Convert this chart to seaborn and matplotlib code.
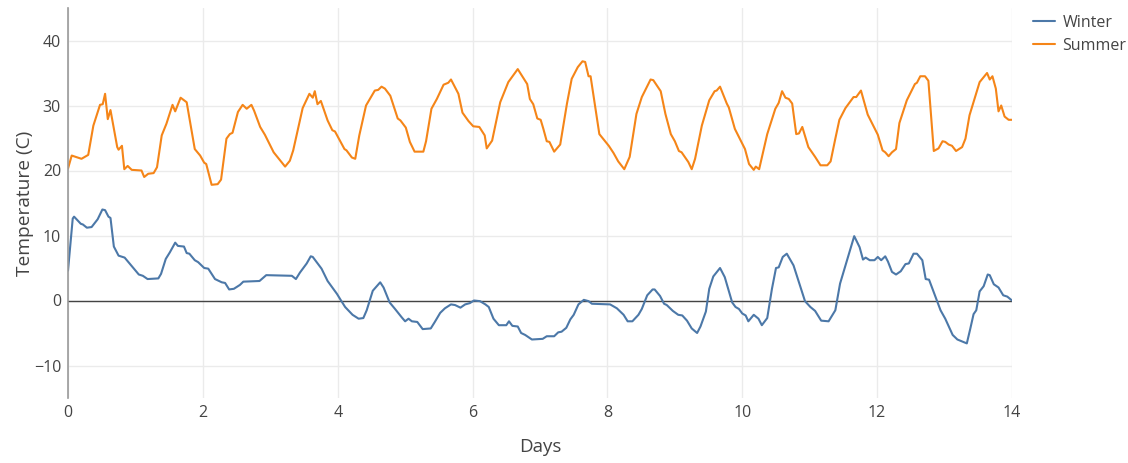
import numpy as np
import pandas as pd
import seaborn as sns
import matplotlib.pyplot as plt

# Temperature readings over two weeks
winter_days = [
    0.00, 0.07, 0.09, 0.19, 0.22, 0.28, 0.35, 0.44, 0.51, 0.55, 0.60, 0.63, 0.68, 0.75, 0.84,
    1.05, 1.11, 1.18, 1.34, 1.38, 1.45, 1.51, 1.59, 1.63, 1.72, 1.76, 1.80, 1.88, 1.93,
    2.02, 2.08, 2.18, 2.28, 2.33, 2.39, 2.46, 2.55, 2.60, 2.84, 2.94,
    3.32, 3.38, 3.44, 3.54, 3.60, 3.63, 3.76, 3.85, 3.99,
    4.04, 4.11, 4.22, 4.31, 4.38, 4.43, 4.52, 4.57, 4.63, 4.68, 4.77, 4.85, 4.95,
    5.00, 5.05, 5.10, 5.18, 5.26, 5.38, 5.44, 5.52, 5.59, 5.68, 5.74, 5.82, 5.89, 5.96,
    6.02, 6.11, 6.19, 6.24, 6.31, 6.39, 6.50, 6.54, 6.59, 6.67, 6.72, 6.78, 6.88,
    7.04, 7.10, 7.21, 7.27, 7.32, 7.39, 7.45, 7.50, 7.57, 7.65, 7.72, 7.77,
    8.04, 8.14, 8.24, 8.30, 8.37, 8.46, 8.51, 8.59, 8.67, 8.70, 8.78, 8.84, 8.88, 8.97,
    9.05, 9.11, 9.18, 9.25, 9.33, 9.38, 9.46, 9.51, 9.57, 9.67, 9.74, 9.85, 9.90, 9.95,
    10.00, 10.05, 10.09, 10.17, 10.24, 10.29, 10.37, 10.44, 10.50, 10.54, 10.60, 10.66,
    10.76, 10.84, 10.93, 11.01, 11.08, 11.17, 11.28, 11.38, 11.45, 11.53, 11.66, 11.74,
    11.79, 11.83, 11.89, 11.96, 12.01, 12.06, 12.12, 12.16, 12.22, 12.28, 12.35, 12.42,
    12.47, 12.54, 12.59, 12.67, 12.72, 12.77, 12.94, 13.01, 13.12, 13.19, 13.26, 13.33,
    13.38, 13.43, 13.47, 13.52, 13.58, 13.64, 13.67, 13.73, 13.80, 13.87, 13.93, 14.00,
]
winter_temp = [
    4.6, 12.6, 12.9, 11.8, 11.7, 11.2, 11.3, 12.5, 14.0, 13.9, 12.9, 12.7, 8.3, 6.9, 6.6,
    4.0, 3.8, 3.3, 3.4, 4.1, 6.4, 7.4, 8.9, 8.4, 8.3, 7.3, 7.2, 6.2, 5.9,
    5.0, 4.9, 3.3, 2.8, 2.7, 1.7, 1.8, 2.4, 2.9, 3.0, 3.9,
    3.8, 3.3, 4.3, 5.7, 6.8, 6.7, 4.9, 3.0, 1.0,
    0.15, -1.0, -2.2, -2.8, -2.7, -1.5, 1.5, 2.1, 2.8, 2.0, -0.3, -1.3, -2.6,
    -3.2, -2.8, -3.2, -3.3, -4.4, -4.3, -3.3, -1.9, -1.2, -0.6, -0.7, -1.1, -0.6, -0.4,
    0.0, -0.1, -0.6, -1.0, -2.8, -3.8, -3.8, -3.2, -3.9, -4.0, -5.0, -5.3, -6.0,
    -5.9, -5.5, -5.5, -4.9, -4.8, -4.2, -2.9, -2.2, -0.6, 0.1, -0.1, -0.5,
    -0.6, -1.2, -2.2, -3.2, -3.2, -2.2, -1.3, 0.8, 1.7, 1.7, 0.7, -0.5, -0.7, -1.6,
    -2.2, -2.3, -3.1, -4.3, -5.0, -4.0, -1.7, 1.8, 3.7, 5.0, 3.6, -0.3, -1.0, -1.3,
    -2.0, -2.3, -3.2, -2.2, -2.8, -3.8, -2.7, 1.8, 5.0, 5.1, 6.7, 7.2,
    5.4, 2.8, -0.1, -1.0, -1.6, -3.1, -3.2, -1.5, 2.6, 5.4, 9.9, 8.2,
    6.3, 6.6, 6.2, 6.2, 6.7, 6.2, 6.8, 6.0, 4.4, 4.0, 4.5, 5.6,
    5.7, 7.2, 7.2, 6.2, 3.3, 3.2, -1.5, -2.8, -5.3, -6.0, -6.3, -6.6,
    -4.4, -2.1, -1.5, 1.4, 2.2, 4.0, 3.9, 2.5, 2.0, 0.8, 0.6, 0.0,
]

summer_days = [
    0.00, 0.055, 0.20, 0.30, 0.376, 0.475, 0.515, 0.55, 0.59, 0.63, 0.73, 0.75, 0.80, 0.835,
    0.885, 0.945, 1.09, 1.13, 1.19, 1.27, 1.32, 1.39, 1.46, 1.55, 1.59, 1.67, 1.76, 1.88,
    1.96, 2.02, 2.05, 2.13, 2.22, 2.27, 2.35, 2.40, 2.44, 2.52, 2.59, 2.65, 2.72, 2.76,
    2.85, 2.92, 3.05, 3.15, 3.22, 3.29, 3.34, 3.48, 3.58, 3.63, 3.66, 3.70, 3.75, 3.85,
    3.92, 3.96, 4.10, 4.13, 4.21, 4.26, 4.32, 4.42, 4.55, 4.60, 4.65, 4.70, 4.78, 4.89,
    4.93, 5.01, 5.07, 5.14, 5.27, 5.31, 5.39, 5.47, 5.57, 5.64, 5.68, 5.79, 5.85, 5.94,
    6.01, 6.10, 6.18, 6.21, 6.29, 6.41, 6.53, 6.67, 6.81, 6.85, 6.90, 6.96, 7.01, 7.05,
    7.10, 7.14, 7.21, 7.30, 7.40, 7.47, 7.56, 7.63, 7.67, 7.72, 7.75, 7.88, 8.02, 8.09,
    8.16, 8.25, 8.33, 8.43, 8.51, 8.64, 8.68, 8.79, 8.86, 8.94, 9.00, 9.06, 9.10, 9.20,
    9.25, 9.30, 9.40, 9.51, 9.59, 9.62, 9.67, 9.77, 9.80, 9.89, 10.00, 10.04, 10.10, 10.17,
    10.20, 10.25, 10.37, 10.49, 10.54, 10.59, 10.64, 10.69, 10.74, 10.80, 10.84, 10.89,
    10.98, 11.08, 11.16, 11.26, 11.31, 11.38, 11.44, 11.53, 11.65, 11.69, 11.76, 11.86,
    12.01, 12.08, 12.12, 12.17, 12.22, 12.28, 12.33, 12.44, 12.56, 12.59, 12.64, 12.71,
    12.76, 12.84, 12.91, 12.97, 13.01, 13.06, 13.11, 13.17, 13.26, 13.31, 13.37, 13.52,
    13.63, 13.67, 13.71, 13.76, 13.80, 13.84, 13.89, 13.95, 14.00,
]
summer_temp = [
    20.3, 22.3, 21.8, 22.4, 26.9, 30.1, 30.2, 31.8, 27.9, 29.3, 23.6, 23.2, 23.8, 20.2,
    20.7, 20.1, 20.0, 19.0, 19.5, 19.6, 20.5, 25.4, 27.2, 30.1, 29.1, 31.2, 30.5, 23.3,
    22.3, 21.2, 21.0, 17.8, 17.9, 18.6, 24.9, 25.6, 25.8, 29.0, 30.1, 29.5, 30.1, 29.2,
    26.7, 25.5, 22.8, 21.5, 20.6, 21.5, 23.1, 29.6, 31.8, 31.2, 32.2, 30.2, 30.7, 27.7,
    26.2, 26.0, 23.3, 23.1, 22.0, 21.8, 25.4, 30.0, 32.3, 32.4, 32.9, 32.6, 31.5, 28.0,
    27.7, 26.6, 24.4, 22.9, 22.9, 24.5, 29.5, 31.0, 33.2, 33.5, 34.0, 31.8, 28.9, 27.6,
    26.8, 26.7, 25.4, 23.4, 24.6, 30.5, 33.6, 35.6, 33.3, 31.0, 30.2, 28.0, 27.8, 26.4,
    24.5, 24.4, 22.9, 24.0, 30.3, 34.1, 35.9, 36.8, 36.7, 34.5, 34.5, 25.6, 23.8, 22.7,
    21.4, 20.2, 22.1, 28.7, 31.3, 34.0, 33.9, 32.2, 28.7, 25.6, 24.5, 23.0, 22.8, 21.3,
    20.2, 21.8, 26.9, 30.8, 32.2, 32.3, 32.9, 30.3, 29.7, 26.4, 24.1, 23.3, 21.0, 20.1,
    20.6, 20.2, 25.6, 29.5, 30.4, 32.2, 31.2, 31.0, 30.3, 25.6, 25.7, 26.7,
    23.6, 22.1, 20.8, 20.8, 21.4, 24.9, 27.8, 29.6, 31.3, 31.3, 32.3, 28.6,
    25.5, 23.1, 22.8, 22.2, 22.8, 23.3, 27.3, 30.8, 33.3, 33.5, 34.5, 34.5,
    33.8, 23.0, 23.4, 24.5, 24.4, 24.0, 23.8, 23.0, 23.6, 24.9, 28.5, 33.6,
    35.0, 34.0, 34.5, 32.6, 29.1, 30.0, 28.3, 27.8, 27.8,
]

series_names = ["Winter", "Summer"]
series_colors = ["#4c78a8", "#f58518"]
x_ticks = [0, 2, 4, 6, 8, 10, 12, 14]
y_ticks = [-10, 0, 10, 20, 30, 40]

df = pd.concat([
    pd.DataFrame({"Days": winter_days, "Temperature": winter_temp, "Season": "Winter"}),
    pd.DataFrame({"Days": summer_days, "Temperature": summer_temp, "Season": "Summer"}),
], ignore_index=True)

sns.set_theme(style="white")
plt.rcParams["font.family"] = ["Open Sans", "DejaVu Sans"]

W, H = 1128, 463
fig = plt.figure(figsize=(W / 100, H / 100), dpi=100)
ax = fig.add_axes([68 / W, (H - 398) / H, (1012 - 68) / W, (398 - 8) / H])

sns.lineplot(data=df, x="Days", y="Temperature", hue="Season",
             hue_order=series_names, palette=series_colors,
             linewidth=1.5, ax=ax, legend=False, estimator=None, sort=False)

ax.set_xlim(0, 14)
ax.set_ylim(-15, 45)
ax.set_xticks(x_ticks)
ax.set_yticks(y_ticks)
ax.set_yticklabels(["\u221210" if t < 0 else str(t) for t in y_ticks])
ax.grid(True, color="#ebebeb", linewidth=1)
ax.set_axisbelow(True)
ax.axhline(0, color="#444444", linewidth=1, zorder=1.5)

for side in ["top", "right", "bottom"]:
    ax.spines[side].set_visible(False)
ax.spines["left"].set_color("#999999")
ax.spines["left"].set_linewidth(1.2)
ax.tick_params(axis="both", length=0, labelsize=11.5, labelcolor="#444444")
ax.tick_params(axis="x", pad=5)
ax.tick_params(axis="y", pad=5)

ax.set_xlabel("")
ax.set_ylabel("")
fig.text(540 / W, 1 - 447 / H, "Days", ha="center", va="center",
         fontsize=13.5, color="#444444")
fig.text(25 / W, 1 - 203 / H, "Temperature (C)", ha="center", va="center",
         rotation=90, fontsize=13.8, color="#444444")

handles = [plt.Line2D([], [], color=c, linewidth=1.5) for c in series_colors]
fig.legend(handles, series_names, loc="upper left", bbox_to_anchor=(1033 / W, 1 - 15 / H),
           frameon=False, fontsize=11.5, handlelength=1.4, handletextpad=0.45,
           labelspacing=0.42, borderpad=0, borderaxespad=0, labelcolor="#444444")

fig.savefig("out.png", dpi=100)
